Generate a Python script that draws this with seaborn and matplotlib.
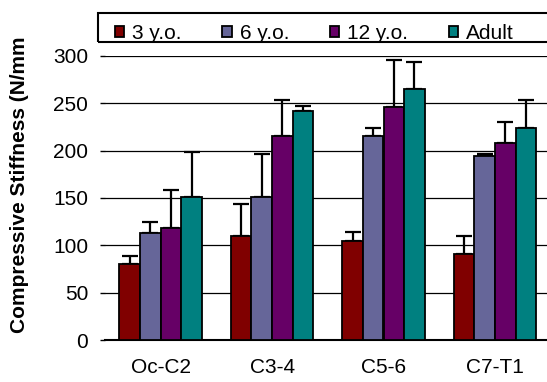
import matplotlib
matplotlib.use('Agg')
import matplotlib.pyplot as plt
import matplotlib.patches as mpatches
import numpy as np
import pandas as pd
import seaborn as sns

# values
segments = ['Oc-C2', 'C3-4', 'C5-6', 'C7-T1']
groups = ['3 y.o.', '6 y.o.', '12 y.o.', 'Adult']
mean_3yo = [80, 109.5, 105, 90.5]
mean_6yo = [113.5, 151.5, 215, 194]
mean_12yo = [118, 215, 246.5, 208.5]
mean_adult = [151.5, 242, 265.5, 223.5]
err_3yo = [8.5, 34, 9, 19.5]
err_6yo = [11, 45, 8.5, 3]
err_12yo = [40, 38, 49, 22]
err_adult = [47.5, 5, 28, 29.5]
colors = ['#800000', '#666699', '#660066', '#008080']

means = [mean_3yo, mean_6yo, mean_12yo, mean_adult]
errs = [err_3yo, err_6yo, err_12yo, err_adult]
rows = []
for g, m, e in zip(groups, means, errs):
    for s, v, sd in zip(segments, m, e):
        rows.append({'segment': s, 'age': g, 'stiffness': v, 'sd': sd})
df = pd.DataFrame(rows)

sns.set_style('white')
plt.rcParams['font.family'] = ['Liberation Sans', 'DejaVu Sans']
plt.rcParams['text.color'] = 'black'
plt.rcParams['xtick.color'] = 'black'
plt.rcParams['ytick.color'] = 'black'
plt.rcParams['axes.labelcolor'] = 'black'

fig = plt.figure(figsize=(5.47, 3.82), dpi=100)
ax = fig.add_axes([105/547, 42/382, 445.6/547, 284/382])

sns.barplot(data=df, x='segment', y='stiffness', hue='age', order=segments,
            hue_order=groups, palette=colors, edgecolor='black', linewidth=1.3,
            width=0.74, errorbar=None, saturation=1, ax=ax, zorder=3)

# one-sided error bars on top of each bar
for cont, g in zip(ax.containers, groups):
    sub = df[df['age'] == g].set_index('segment').loc[segments]
    xs = [p.get_x() + p.get_width() / 2 for p in cont.patches]
    hs = [p.get_height() for p in cont.patches]
    ax.errorbar(xs, hs, yerr=[np.zeros(len(xs)), sub['sd'].values], fmt='none',
                ecolor='black', elinewidth=1.6, capsize=5.6, capthick=1.6, zorder=2)

ax.set_xlim(-0.5, 3.5)
ax.set_ylim(0, 300)
ax.set_yticks(range(0, 301, 50))
ax.yaxis.grid(True, color='black', linewidth=0.9, zorder=0)
ax.set_axisbelow(True)
for side in ['top', 'right', 'left']:
    ax.spines[side].set_visible(False)
ax.spines['bottom'].set_color('black')
ax.spines['bottom'].set_linewidth(1.5)

ax.set_xticks(range(len(segments)))
ax.set_xticklabels(segments)
ax.set_xticks(np.arange(-0.5, 4, 1), minor=True)
ax.tick_params(axis='x', which='major', length=0, pad=13, labelsize=15)
ax.tick_params(axis='x', which='minor', length=4, width=1.5, color='black', direction='out')
ax.tick_params(axis='y', length=3.6, width=1, color='black', direction='out', pad=8.5, labelsize=15, left=True)
ax.set_xlabel('')
ax.set_ylabel('Compressive Stiffness (N/mm', fontsize=15, fontweight='bold')
ax.yaxis.set_label_coords(-0.17, 0.546)

handles, labels = ax.get_legend_handles_labels()
ax.legend(handles, labels, ncol=4, frameon=False, loc='center left',
          bbox_to_anchor=(115/547, 1 - 33.5/382), bbox_transform=fig.transFigure,
          borderaxespad=0, borderpad=0, handlelength=0.45, handleheight=0.45,
          handletextpad=0.38, columnspacing=1.95, fontsize=15)
fig.patches.append(mpatches.Rectangle((98/547, 1 - 42/382), 500/547, 29/382,
                                      transform=fig.transFigure, fill=False,
                                      edgecolor='black', linewidth=1.5))

plt.savefig('out.png', dpi=100)
